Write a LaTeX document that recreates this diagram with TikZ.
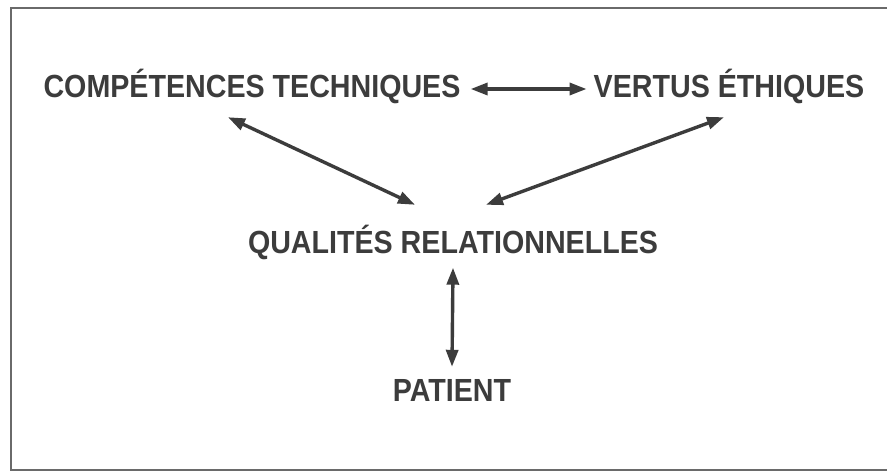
\documentclass[tikz,border=0pt]{standalone}
\usepackage{fontspec}
\usetikzlibrary{arrows.meta}
\newfontfamily\lblfont{Liberation Sans Bold}[FakeStretch=0.895]
\definecolor{ink}{HTML}{3C3C3C}
\definecolor{framegray}{HTML}{6A6A6A}

\begin{document}
\begin{tikzpicture}[x=1pt,y=-1pt,
    lbl/.style={inner sep=0pt,text height=23pt,text depth=0pt,text=ink,
        font=\lblfont\fontsize{32}{34}\selectfont},
    dbl/.style={{Triangle[length=17pt,width=12pt]}-{Triangle[length=17pt,width=12pt]},
        line width=3.4pt,draw=ink}]
    % page and frame
    \fill[white] (0,0) rectangle (887,473);
    \useasboundingbox (0,0) rectangle (887,473);
    \draw[framegray,line width=2pt] (892,8) -- (11,8) -- (11,470) -- (892,470);

    % Define labels
    \foreach \name/\x/\y/\txt in {ct/252/86/COMPÉTENCES TECHNIQUES,ve/729/86/VERTUS ÉTHIQUES,
        qr/453/242/QUALITÉS RELATIONNELLES,pa/452/390/PATIENT} {
        \node[lbl] (\name) at (\x,\y) {\txt};
    }

    % arrows
    \draw[dbl,shorten <=10pt,shorten >=7pt] ([yshift=-3pt]ct.east) -- ([yshift=-3pt]ve.west);
    \draw[dbl] ([xshift=-24pt,yshift=-19.5pt]ct.south) -- ([xshift=-38pt,yshift=25.5pt]qr.north);
    \draw[dbl] ([xshift=-5pt,yshift=-19.5pt]ve.south) -- ([xshift=33pt,yshift=25.5pt]qr.north);
    \draw[dbl] ([yshift=-14pt]qr.south) -- ([yshift=11.5pt]pa.north);

\end{tikzpicture}
\end{document}
